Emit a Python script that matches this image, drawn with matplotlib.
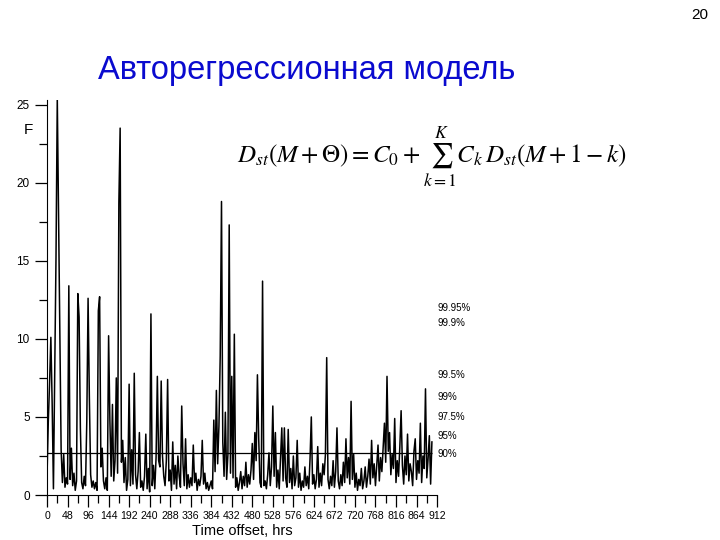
import numpy as np
import matplotlib
matplotlib.use("Agg")
import matplotlib.pyplot as plt
from matplotlib.ticker import MultipleLocator

plt.rcParams['font.family'] = ['Liberation Sans', 'DejaVu Sans']
plt.rcParams['mathtext.fontset'] = 'stix'

# F statistic, read every 3 hours from the picture
step_hrs = 3
f_values = [
    1.2, 4.7, 7.2, 10.1, 5.9, 0.4, 7.9, 15.2, 25.4, 17.8,
    10.2, 2.9, 0.8, 2.6, 0.5, 1.1, 0.7, 13.4, 1.0, 3.0,
    0.6, 1.4, 0.3, 0.9, 12.9, 11.4, 4.3, 0.8, 0.4, 1.2,
    0.6, 4.7, 12.6, 6.3, 1.3, 0.5, 0.9, 0.4, 0.8, 0.3,
    11.8, 12.7, 1.8, 3.0, 0.9, 0.4, 1.1, 0.3, 10.2, 4.8,
    1.2, 5.8, 0.9, 2.2, 7.5, 1.4, 18.7, 23.5, 2.1, 3.5,
    0.8, 2.4, 0.3, 1.0, 7.1, 0.6, 2.9, 0.7, 7.8, 1.3,
    0.4, 1.5, 4.0, 0.5, 0.9, 0.3, 1.2, 3.9, 0.4, 1.7,
    0.2, 11.6, 0.6, 1.9, 0.4, 2.4, 7.6, 2.2, 1.8, 7.3,
    2.5, 1.2, 0.6, 2.2, 7.4, 0.9, 1.6, 0.3, 3.4, 0.7,
    1.9, 0.4, 2.5, 1.2, 0.5, 5.7, 2.0, 0.6, 3.6, 0.4,
    1.3, 0.5, 1.1, 0.6, 3.2, 0.8, 1.4, 0.3, 1.0, 0.6,
    1.2, 3.5, 0.7, 1.4, 0.4, 0.8, 0.3, 0.6, 0.9, 0.4,
    4.8, 1.5, 6.7, 2.0, 4.4, 8.9, 18.8, 3.4, 1.2, 5.3,
    1.0, 2.6, 17.3, 1.4, 7.6, 1.1, 10.3, 0.5, 1.1, 0.3,
    0.8, 1.5, 0.4, 1.2, 0.6, 2.1, 0.5, 1.3, 0.7, 1.6,
    3.3, 1.0, 4.0, 2.2, 7.7, 3.6, 0.8, 0.5, 13.7, 0.6,
    0.9, 0.4, 1.3, 2.7, 0.6, 1.8, 5.7, 1.2, 4.0, 0.5,
    1.6, 0.4, 2.3, 4.3, 0.9, 4.3, 1.1, 0.5, 4.2, 0.8,
    1.7, 0.4, 2.5, 0.6, 1.1, 3.5, 0.5, 1.4, 0.3, 0.9,
    0.5, 1.8, 0.6, 1.2, 0.4, 2.3, 5.0, 0.7, 1.3, 0.4,
    1.0, 3.1, 0.5, 1.4, 0.6, 2.0, 1.3, 2.6, 8.8, 1.0,
    0.4, 1.2, 0.6, 2.2, 0.5, 1.5, 4.3, 0.9, 0.4, 1.3,
    0.6, 2.1, 0.8, 3.6, 1.1, 2.4, 0.7, 6.0, 1.0, 2.6,
    0.5, 1.4, 0.3, 1.0, 0.6, 1.7, 0.4, 0.9, 1.8, 0.5,
    1.2, 2.3, 0.7, 3.5, 1.1, 2.0, 0.6, 1.9, 3.2, 0.9,
    2.4, 1.5, 3.0, 4.6, 2.1, 7.6, 2.8, 4.0, 1.3, 2.6,
    1.7, 4.9, 0.8, 2.2, 1.2, 3.1, 5.4, 1.9, 0.7, 2.5,
    1.3, 3.9, 0.9, 2.0, 1.5, 0.6, 2.8, 3.6, 1.0, 2.2,
    1.4, 4.6, 0.8, 2.5, 1.7, 6.8, 1.1, 2.3, 3.8, 0.7,
    3.4,
]
hours = np.arange(len(f_values)) * step_hrs

level_90 = 2.7
pct_labels = ['99.95%', '99.9%', '99.5%', '99%', '97.5%', '95%', '90%']
pct_levels = [12.0, 11.0, 7.7, 6.3, 5.0, 3.8, 2.6]

fig = plt.figure(figsize=(7.2, 5.4), dpi=100)
ax = fig.add_axes([0.0653, 0.0833, 0.5417, 0.7315])

ax.plot(hours, f_values, color='black', lw=1.1)
ax.hlines(level_90, hours[0], hours[-1], color='black', lw=0.9)

ax.set_xlim(0, 912)
ax.set_ylim(0, 25.3)
ax.spines['top'].set_visible(False)
ax.spines['right'].set_visible(False)
ax.xaxis.set_major_locator(MultipleLocator(48))
ax.xaxis.set_minor_locator(MultipleLocator(24))
ax.yaxis.set_major_locator(MultipleLocator(5))
ax.yaxis.set_minor_locator(MultipleLocator(2.5))
ax.tick_params(which='major', direction='out', length=8.5, width=0.9)
ax.tick_params(which='minor', direction='out', length=5.5, width=0.9)
ax.tick_params(axis='x', labelsize=7.6, pad=3)
ax.tick_params(axis='y', labelsize=8.5, pad=4)

for lab, lev in zip(pct_labels, pct_levels):
    ax.text(913, lev, lab, fontsize=7, va='center', ha='left')

fig.text(0.039, 0.759, 'F', fontsize=11, ha='center', va='center')
fig.text(0.336, 0.017, 'Time offset, hrs', fontsize=10.5, ha='center', va='center')

fig.text(0.426, 0.870, 'Авторегрессионная модель', fontsize=23.5, color='#0A0ACF',
         ha='center', va='center')
fig.text(0.972, 0.972, '20', fontsize=11, ha='center', va='center')

fig.text(0.6, 0.709,
         r'$D_{st}\left(M+\Theta\right)=C_0+\sum_{k=1}^{K}C_k\,D_{st}\left(M+1-k\right)$',
         fontsize=18, ha='center', va='center')

fig.savefig('out.png', dpi=100)
